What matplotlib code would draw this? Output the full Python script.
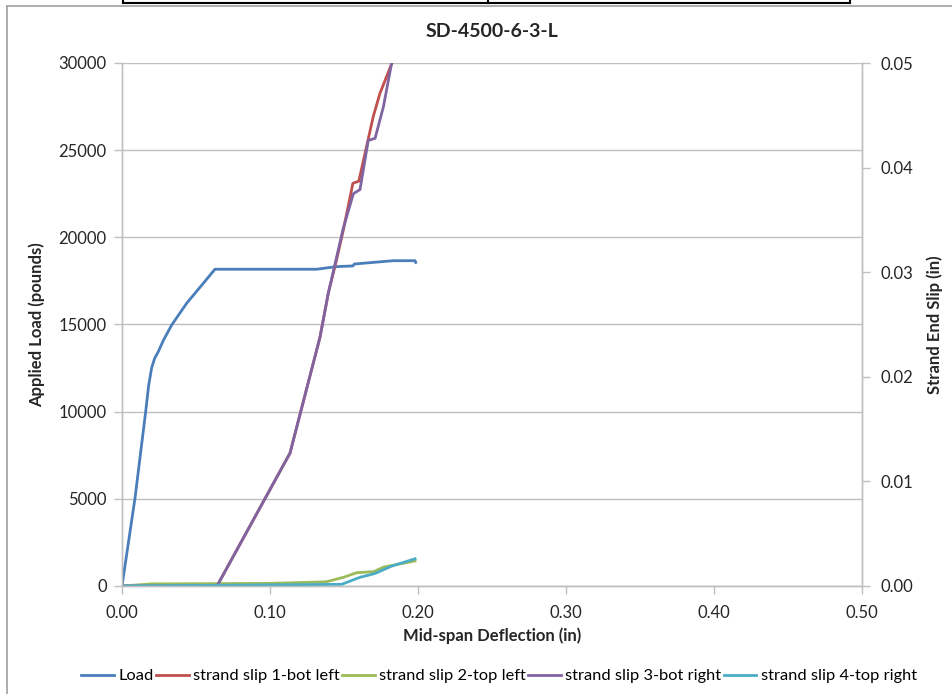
import matplotlib
matplotlib.use("Agg")
import matplotlib.pyplot as plt
from matplotlib.lines import Line2D

plt.rcParams['font.family'] = ['Lato', 'DejaVu Sans']

title = "SD-4500-6-3-L"
x_label = "Mid-span Deflection (in)"
y_label_left = "Applied Load (pounds)"
y_label_right = "Strand End Slip (in)"

load_x = [0, 0.0088, 0.016, 0.018, 0.020, 0.022, 0.0245, 0.028, 0.0336, 0.0437,
          0.055, 0.0628, 0.1315, 0.145, 0.156, 0.157, 0.1833, 0.198, 0.1985]
load_y = [0, 5050, 10000, 11500, 12500, 13050, 13440, 14100, 14975, 16220,
          17370, 18170, 18170, 18320, 18360, 18470, 18660, 18660, 18560]

slip1_x = [0, 0.0642, 0.1135, 0.1338, 0.1394, 0.145, 0.1495, 0.156, 0.160,
           0.1698, 0.1743, 0.1824]
slip1_y = [0, 0, 0.0127, 0.0238, 0.0280, 0.0312, 0.0340, 0.0385, 0.0387,
           0.0449, 0.0471, 0.0500]

slip2_x = [0, 0.02, 0.10, 0.138, 0.1496, 0.1586, 0.170, 0.1766, 0.198]
slip2_y = [0, 0.0002, 0.00025, 0.0004, 0.00083, 0.00127, 0.00137, 0.0018, 0.0024]

slip3_x = [0, 0.0642, 0.1135, 0.1338, 0.1394, 0.1495, 0.1563, 0.1608, 0.1664,
           0.171, 0.1766, 0.1822]
slip3_y = [0, 0, 0.0127, 0.0238, 0.0280, 0.0342, 0.0375, 0.0379, 0.0426,
           0.0428, 0.0458, 0.0500]

slip4_x = [0, 0.1484, 0.1608, 0.171, 0.1822, 0.198]
slip4_y = [0, 0.00016, 0.00083, 0.0012, 0.0019, 0.0026]

series_names = ["Load", "strand slip 1-bot left", "strand slip 2-top left",
                "strand slip 3-bot right", "strand slip 4-top right"]
colors = ["#4A7EBB", "#C0504D", "#9BBB59", "#8064A2", "#4BACC6"]

left_ticks = [0, 5000, 10000, 15000, 20000, 25000, 30000]
right_ticks = [0.00, 0.01, 0.02, 0.03, 0.04, 0.05]
x_ticks = [0.0, 0.1, 0.2, 0.3, 0.4, 0.5]

W, H = 952, 694
fig = plt.figure(figsize=(W / 100, H / 100), dpi=100)
ax = fig.add_axes([122 / W, 1 - 586 / H, (862 - 122) / W, (586 - 63) / H])
ax2 = ax.twinx()

grid_c = "#BFBFBF"
lw = 2.0
fs = 12

ax.plot(load_x, load_y, color=colors[0], lw=lw, label=series_names[0], zorder=3)
ax.set_xlim(0, 0.5)
ax.set_ylim(0, 30000)
ax.set_xticks(x_ticks)
ax.set_xticklabels([f"{v:.2f}" for v in x_ticks])
ax.set_yticks(left_ticks)
ax.set_yticklabels([str(v) for v in left_ticks])
ax.yaxis.grid(True, color=grid_c, lw=1.0)
ax.set_axisbelow(True)

l1, = ax2.plot(slip1_x, slip1_y, color=colors[1], lw=lw, label=series_names[1])
l2, = ax2.plot(slip2_x, slip2_y, color=colors[2], lw=lw, label=series_names[2])
l3, = ax2.plot(slip3_x, slip3_y, color=colors[3], lw=lw, label=series_names[3])
l4, = ax2.plot(slip4_x, slip4_y, color=colors[4], lw=lw, label=series_names[4])
ax2.set_ylim(0, 0.05)
ax2.set_yticks(right_ticks)
ax2.set_yticklabels([f"{v:.2f}" for v in right_ticks])

for a in (ax, ax2):
    for s in a.spines.values():
        s.set_color(grid_c)
        s.set_linewidth(1.0)
    a.spines['top'].set_visible(False)
    a.tick_params(axis='both', colors=grid_c, labelcolor="#262626",
                  labelsize=fs, length=6, width=1.0, direction='out')

ax.tick_params(axis='y', pad=5)
ax2.tick_params(axis='y', pad=7)
ax.tick_params(axis='x', pad=8)

ax.set_xlabel(x_label, fontsize=fs, fontweight='bold', color="#262626", labelpad=4)
ax.set_ylabel(y_label_left, fontsize=fs, fontweight='bold', color="#262626", labelpad=10)
ax2.set_ylabel(y_label_right, fontsize=fs, fontweight='bold', color="#262626",
               rotation=90, labelpad=10)
ax.set_title(title, fontsize=14, fontweight='bold', color="#262626", pad=19)

handles = [ax.get_lines()[0], l1, l2, l3, l4]
fig.legend(handles, series_names, loc='center', bbox_to_anchor=(499 / W, 1 - 676 / H),
           ncol=5, frameon=False, fontsize=11.8, handlelength=2.0, handletextpad=0.25,
           columnspacing=0.15)

# outer chart frame and top artifact
fig.add_artist(Line2D([7 / W, 7 / W], [0, 1 - 6 / H], transform=fig.transFigure,
                      color="#A0A0A0", lw=1.2))
fig.add_artist(Line2D([7 / W, 1], [1 - 6 / H, 1 - 6 / H], transform=fig.transFigure,
                      color="#A0A0A0", lw=1.2))
fig.add_artist(Line2D([123 / W, 850 / W], [1 - 3 / H, 1 - 3 / H], transform=fig.transFigure,
                      color="black", lw=1.5))
for px in (123, 488, 850):
    fig.add_artist(Line2D([px / W, px / W], [1 - 3 / H, 1], transform=fig.transFigure,
                          color="black", lw=1.5))

fig.savefig("out.png", dpi=100)
